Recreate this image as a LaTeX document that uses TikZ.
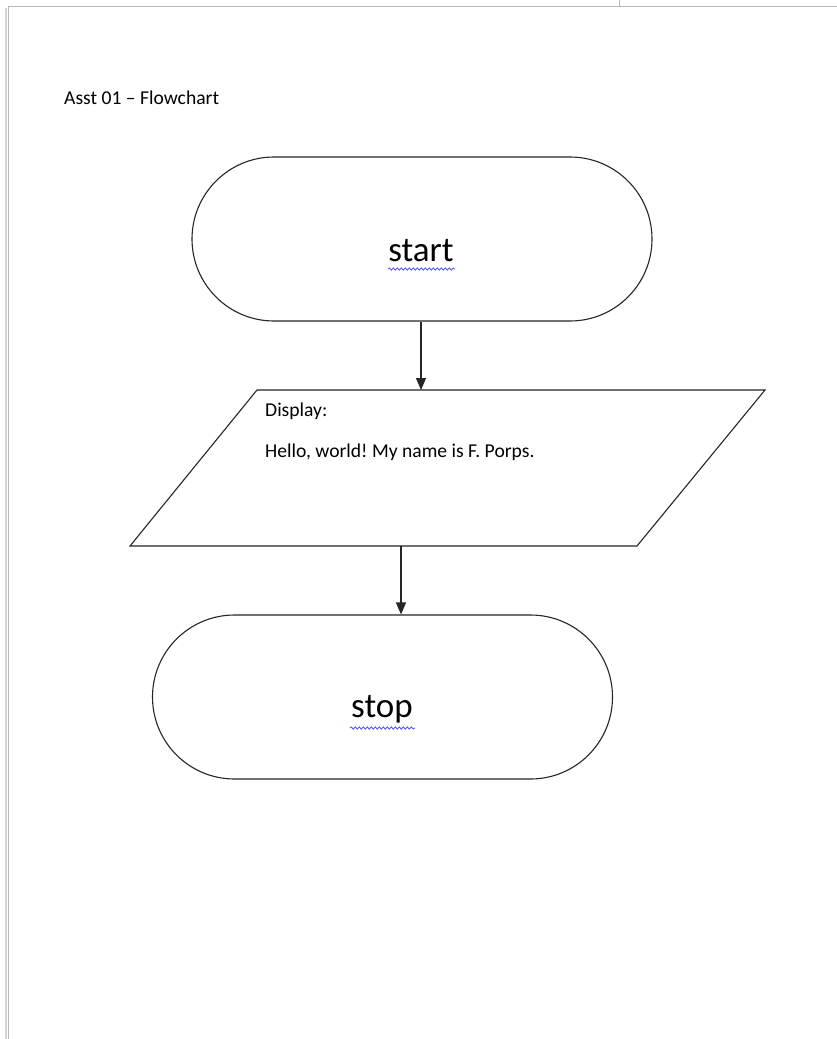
\documentclass[tikz,border=0pt]{standalone}
\usepackage{fontspec}
\setmainfont{Carlito}
\frenchspacing
\usetikzlibrary{arrows.meta,decorations.pathmorphing}
\definecolor{ink}{HTML}{262626}
\definecolor{pageedge}{HTML}{B8B8B8}
\definecolor{squig}{HTML}{5A5AF0}
\tikzset{
  terminal/.style={draw=ink,line width=1.1pt,rounded corners=82pt,minimum width=460pt,minimum height=164pt,inner sep=0pt},
  bigtext/.style={font=\fontsize{35}{40}\selectfont,text=black,inner sep=0pt},
  smalltext/.style={font=\fontsize{19.6}{24}\selectfont,text=black,inner sep=0pt,anchor=west},
  flow/.style={draw=ink,line width=1.1pt,-{Triangle[length=12pt,width=10pt]}},
  squiggle/.style={draw=squig,line width=0.9pt,decorate,decoration={snake,amplitude=1.1pt,segment length=4pt}}
}
\begin{document}
\begin{tikzpicture}[x=1pt,y=-1pt]
\useasboundingbox (0,0) rectangle (837,1039);
\fill[white] (0,0) rectangle (837,1039);
% page edges
\draw[pageedge,line width=1.2pt] (8.5,1039) -- (8.5,6.5) -- (837,6.5);
\draw[pageedge!60,line width=2pt] (6,1039) -- (6,8);
\draw[pageedge,line width=1pt] (619,0) -- (619,6);
% title
\node[smalltext] (title) at (64,98) {Asst 01 – Flowchart};
% start
\node[terminal] (start) at (422,239) {};
\node[bigtext] (starttxt) at (421,251) {start};
\draw[squiggle] (388,269) -- (455,269);
% parallelogram
\coordinate (pa) at (257,390);
\coordinate (pb) at (765,390);
\coordinate (pc) at (637,546);
\coordinate (pd) at (130,546);
\draw[ink,line width=1.1pt] (pa) -- (pb) -- (pc) -- (pd) -- cycle;
\node[smalltext] (disp) at (265,411) {Display:};
\node[smalltext] (hello) at (265,452) {Hello, world! My name is F. Porps.};
\coordinate (in1) at (421,390);
\coordinate (out1) at (401,546);
% stop
\node[terminal] (stop) at (382.5,697) {};
\node[bigtext] (stoptxt) at (382,709) {stop};
\draw[squiggle] (350,728) -- (415,728);
% arrows
\draw[flow] (start.south -| in1) -- (in1);
\draw[flow] (out1) -- (stop.north -| out1);
\end{tikzpicture}
\end{document}
